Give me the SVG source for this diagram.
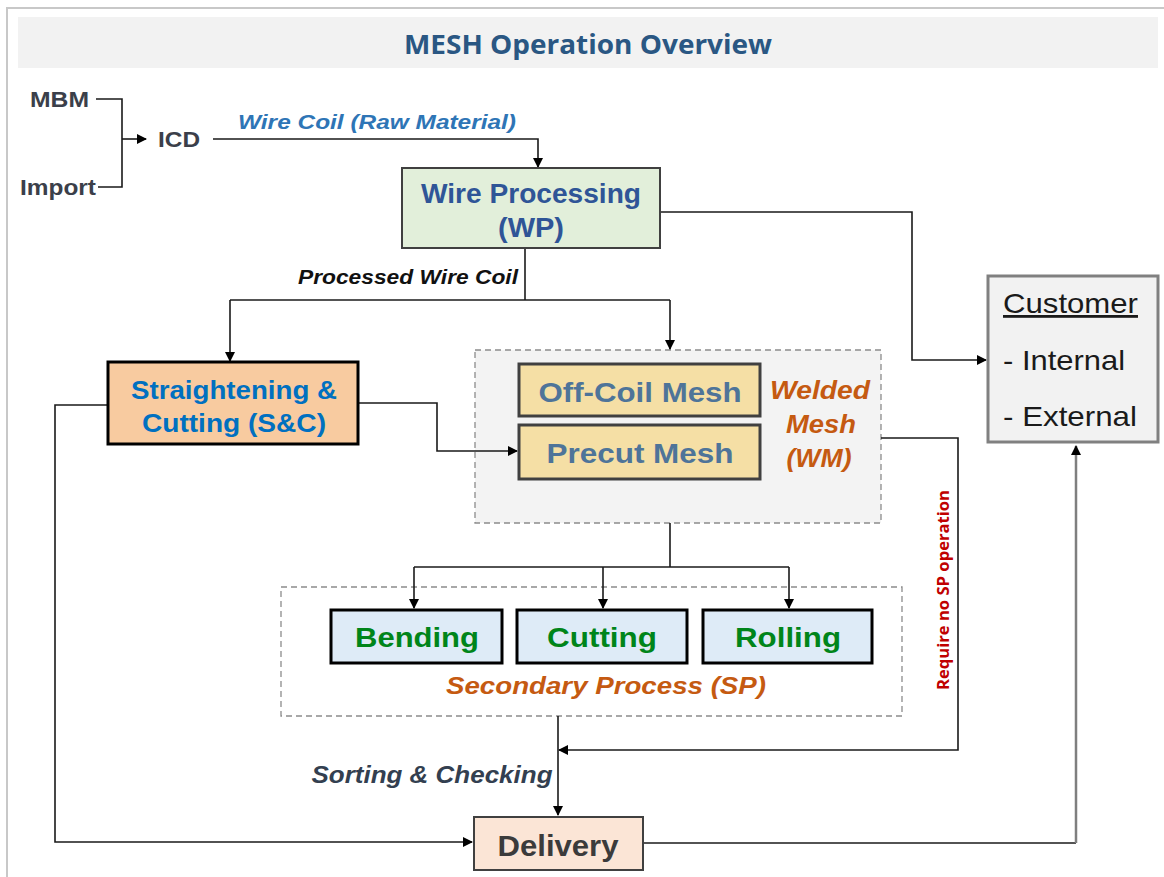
<svg xmlns="http://www.w3.org/2000/svg" width="1164" height="877" viewBox="0 0 1164 877">
<defs>
<marker id="ah" viewBox="0 0 10 10" refX="9" refY="5" markerWidth="10" markerHeight="10" markerUnits="userSpaceOnUse" orient="auto">
<path d="M0,0 L10,5 L0,10 z" fill="#000"/>
</marker>
</defs>
<style>
.ar{font-family:"Liberation Sans",Arial,sans-serif;font-weight:bold}
.it{font-style:italic}
.c{text-anchor:middle}
.ln{fill:none;stroke:#1a1a1a;stroke-width:1.6}
.dash{fill:#f3f3f3;stroke:#8c8c8c;stroke-width:1.3;stroke-dasharray:6 4}
.rg{font-family:"Liberation Sans",Arial,sans-serif;font-size:28px;fill:#1a1a1a}
</style>
<rect width="1164" height="877" fill="#fff"/>
<path d="M7,877 V8 H1164" fill="none" stroke="#c8c8c8" stroke-width="2"/>
<g id="title">
<rect x="18" y="17" width="1140" height="51" fill="#f2f2f2"/>
<text x="588" y="54" class="c" font-family="'Open Sans','Noto Sans',sans-serif" font-weight="bold" font-size="26" fill="#2a5783" textLength="368" lengthAdjust="spacingAndGlyphs">MESH Operation Overview</text>
</g>
<g id="groups">
<rect id="wm-group" x="475" y="350" width="406" height="173" class="dash"/>
<rect id="sp-group" x="281" y="587" width="621" height="129" class="dash" style="fill:#fff"/>
</g>
<g id="connectors">
<path class="ln" d="M96,99 H122 V187 H98"/>
<path class="ln" d="M122,139 H146" marker-end="url(#ah)"/>
<path class="ln" d="M213,139 H538 V167" marker-end="url(#ah)"/>
<path class="ln" d="M660,212 H912 V360 H986" marker-end="url(#ah)"/>
<path class="ln" d="M525,248 V300"/>
<path class="ln" d="M230,300 H670"/>
<path class="ln" d="M230,300 V361" marker-end="url(#ah)"/>
<path class="ln" d="M670,300 V349" marker-end="url(#ah)"/>
<path class="ln" d="M358,403 H437 V451 H517" marker-end="url(#ah)"/>
<path class="ln" d="M108,405 H55 V842 H472" marker-end="url(#ah)"/>
<path class="ln" d="M881,438 H958 V750 H559" marker-end="url(#ah)"/>
<path class="ln" d="M670,523 V567"/>
<path class="ln" d="M414,567 H789"/>
<path class="ln" d="M414,567 V608" marker-end="url(#ah)"/>
<path class="ln" d="M603,567 V608" marker-end="url(#ah)"/>
<path class="ln" d="M789,567 V608" marker-end="url(#ah)"/>
<path class="ln" d="M558,716 V815" marker-end="url(#ah)"/>
<path class="ln" d="M643,843 H1076"/>
<path d="M1076,843 V446" fill="none" stroke="#7f7f7f" stroke-width="2.5" marker-end="url(#ah)"/>
<text x="377" y="129" class="ar it c" font-size="21" fill="#2e75b6" textLength="278" lengthAdjust="spacingAndGlyphs">Wire Coil (Raw Material)</text>
<text x="408" y="284" class="ar it c" font-size="20" fill="#111" textLength="220" lengthAdjust="spacingAndGlyphs">Processed Wire Coil</text>
<text x="432" y="783" class="ar it c" font-size="23" fill="#333f50" textLength="241" lengthAdjust="spacingAndGlyphs">Sorting &amp; Checking</text>
<text transform="translate(949,590) rotate(-90)" class="c" font-family="'Open Sans','Noto Sans',sans-serif" font-weight="bold" font-size="16" fill="#c00000" textLength="200" lengthAdjust="spacingAndGlyphs">Require no SP operation</text>
</g>
<g id="mbm"><text x="30" y="107" class="ar" font-size="22" fill="#3b3f4a" textLength="59" lengthAdjust="spacingAndGlyphs">MBM</text></g>
<g id="import"><text x="20" y="195" class="ar" font-size="22" fill="#3b3f4a" textLength="76" lengthAdjust="spacingAndGlyphs">Import</text></g>
<g id="icd"><text x="158" y="147" class="ar" font-size="22" fill="#3b3f4a" textLength="42" lengthAdjust="spacingAndGlyphs">ICD</text></g>
<g id="wp">
<rect x="402" y="168" width="258" height="80" fill="#e2efda" stroke="#404040" stroke-width="2"/>
<text x="531" y="203" class="ar c" font-size="27.5" fill="#2f5597" textLength="220" lengthAdjust="spacingAndGlyphs">Wire Processing</text>
<text x="531" y="237" class="ar c" font-size="27.5" fill="#2f5597" textLength="66" lengthAdjust="spacingAndGlyphs">(WP)</text>
</g>
<g id="customer">
<rect x="988" y="276" width="170" height="166" fill="#f2f2f2" stroke="#808080" stroke-width="3"/>
<text x="1003" y="313" class="rg" text-decoration="underline" textLength="135" lengthAdjust="spacingAndGlyphs">Customer</text>
<text x="1003" y="370" class="rg" textLength="122" lengthAdjust="spacingAndGlyphs">- Internal</text>
<text x="1003" y="426" class="rg" textLength="134" lengthAdjust="spacingAndGlyphs">- External</text>
</g>
<g id="snc">
<rect x="108" y="362" width="250" height="82" fill="#f8cba0" stroke="#000" stroke-width="3"/>
<text x="234" y="399" class="ar c" font-size="25" fill="#0070c0" textLength="206" lengthAdjust="spacingAndGlyphs">Straightening &amp;</text>
<text x="234" y="432" class="ar c" font-size="25" fill="#0070c0" textLength="184" lengthAdjust="spacingAndGlyphs">Cutting (S&amp;C)</text>
</g>
<g id="welded-mesh">
<text x="820" y="399" class="ar it c" font-size="25" fill="#c55a11" textLength="100" lengthAdjust="spacingAndGlyphs">Welded</text>
<text x="821" y="433" class="ar it c" font-size="25" fill="#c55a11" textLength="70" lengthAdjust="spacingAndGlyphs">Mesh</text>
<text x="819" y="467" class="ar it c" font-size="25" fill="#c55a11" textLength="65" lengthAdjust="spacingAndGlyphs">(WM)</text>
</g>
<g id="offcoil">
<rect x="519" y="364" width="241" height="52" fill="#f5dfa5" stroke="#404040" stroke-width="3"/>
<text x="640" y="402" class="ar c" font-size="28" fill="#4e7499" textLength="203" lengthAdjust="spacingAndGlyphs">Off-Coil Mesh</text>
</g>
<g id="precut">
<rect x="519" y="425" width="241" height="54" fill="#f5dfa5" stroke="#404040" stroke-width="3"/>
<text x="640" y="463" class="ar c" font-size="28" fill="#4e7499" textLength="187" lengthAdjust="spacingAndGlyphs">Precut Mesh</text>
</g>
<g id="bending">
<rect x="331" y="610" width="171" height="53" fill="#deebf7" stroke="#000" stroke-width="3"/>
<text x="417" y="647" class="ar c" font-size="28" fill="#00851a" textLength="124" lengthAdjust="spacingAndGlyphs">Bending</text>
</g>
<g id="cutting">
<rect x="517" y="610" width="170" height="53" fill="#deebf7" stroke="#000" stroke-width="3"/>
<text x="602" y="647" class="ar c" font-size="28" fill="#00851a" textLength="110" lengthAdjust="spacingAndGlyphs">Cutting</text>
</g>
<g id="rolling">
<rect x="703" y="610" width="169" height="53" fill="#deebf7" stroke="#000" stroke-width="3"/>
<text x="788" y="647" class="ar c" font-size="28" fill="#00851a" textLength="106" lengthAdjust="spacingAndGlyphs">Rolling</text>
</g>
<g id="sp-label"><text x="606" y="694" class="ar it c" font-size="24" fill="#c55a11" textLength="320" lengthAdjust="spacingAndGlyphs">Secondary Process (SP)</text></g>
<g id="delivery">
<rect x="474" y="817" width="169" height="53" fill="#fbe5d6" stroke="#404040" stroke-width="2"/>
<text x="558" y="856" class="ar c" font-size="29" fill="#3b3b3b" textLength="121" lengthAdjust="spacingAndGlyphs">Delivery</text>
</g>
</svg>
